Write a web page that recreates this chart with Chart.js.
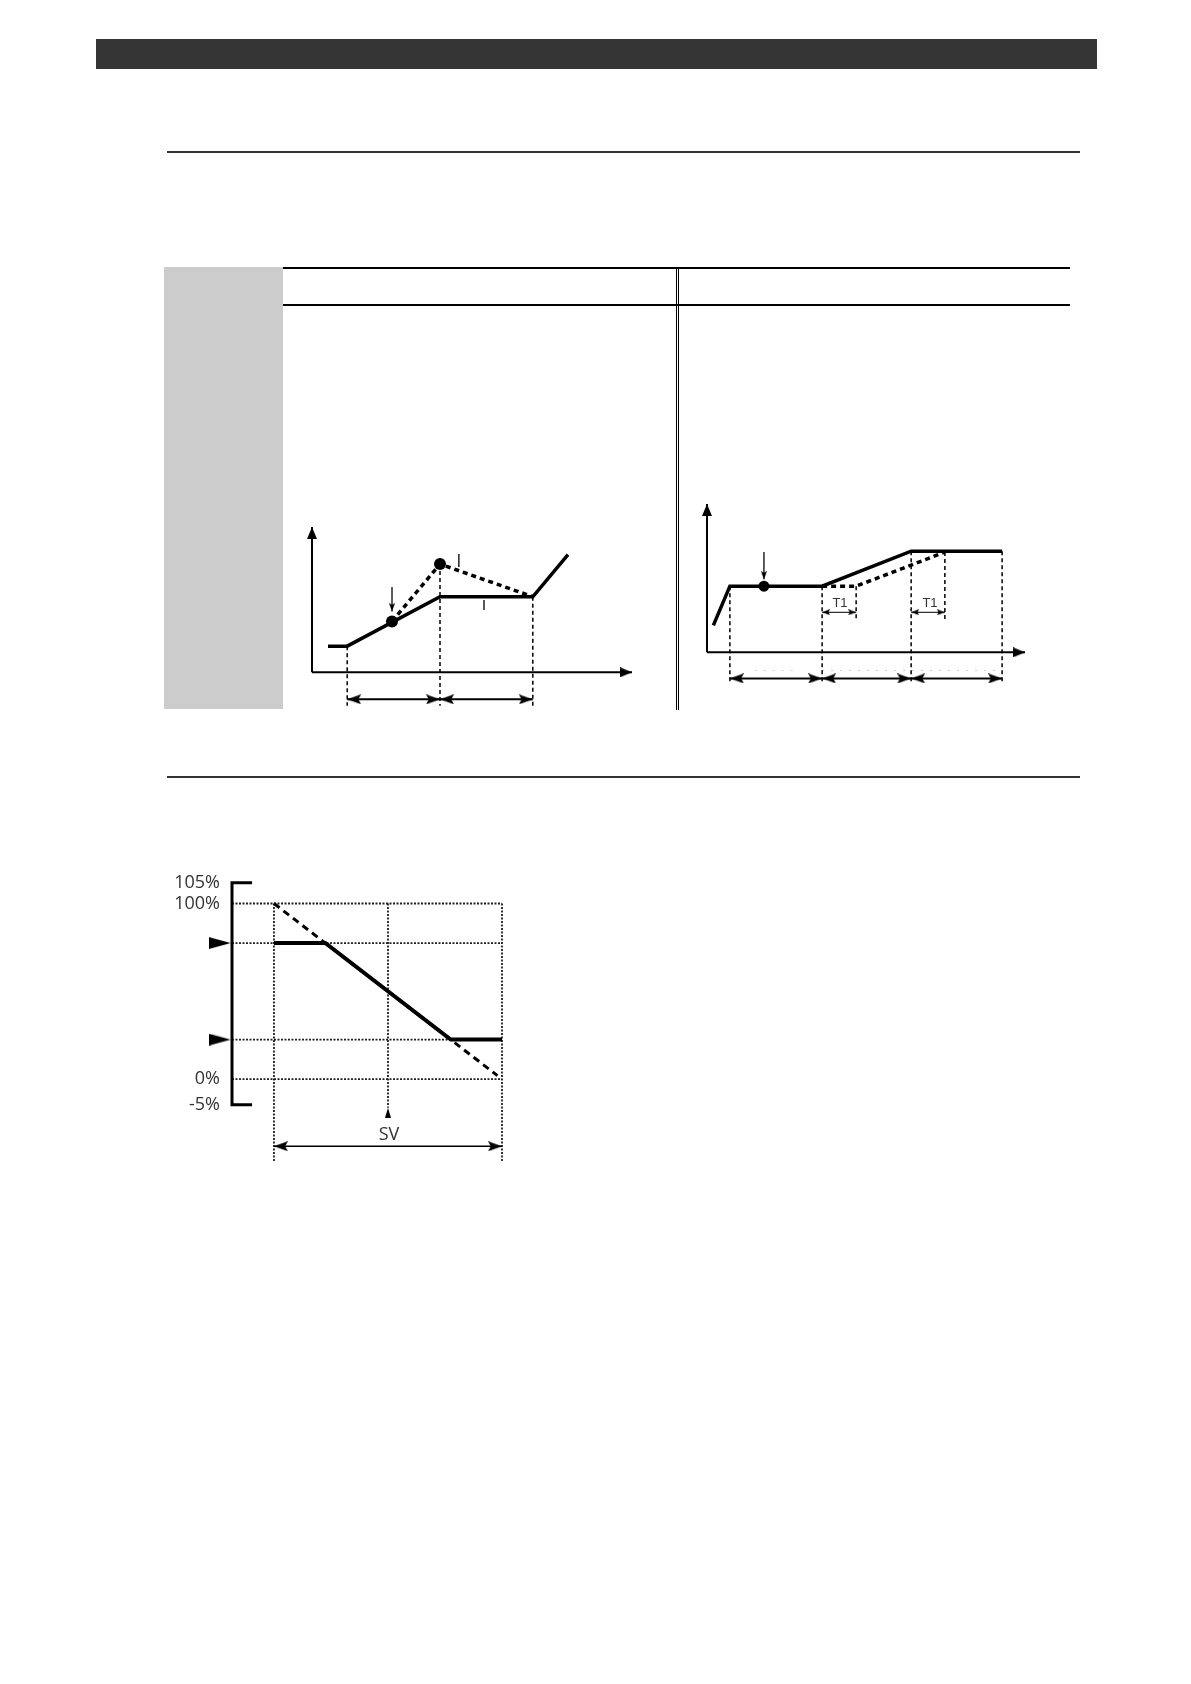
<!DOCTYPE html>
<html>
<head>
<meta charset="utf-8">
<script src="https://cdn.jsdelivr.net/npm/chart.js@4.4.1/dist/chart.umd.min.js"></script>
<style>
  html, body { margin: 0; padding: 0; background: #fff; }
  #page { position: relative; width: 1191px; height: 1684px; overflow: hidden; font-family: "Open Sans", "Noto Sans", sans-serif; }
  .blk { position: absolute; }
  .bar  { left: 96px; top: 39px; width: 1001px; height: 30px; background: #353535; }
  .rule { left: 167px; width: 913px; height: 2px; background: #333; }
  .grey { left: 164px; top: 267px; width: 119px; height: 442px; background: #cccccc; }
  .hline { left: 283px; width: 787px; height: 2px; background: #000; }
  .vdbl { left: 676px; top: 267px; width: 1px; height: 443px; border-left: 1px solid #000; border-right: 1px solid #000; }
  canvas { position: absolute; }
  .lbl { position: absolute; color: #333; transform: translate(-50%, -50%); white-space: nowrap; line-height: 1; }
</style>
</head>
<body>
<div id="page">
  <div class="blk bar"></div>
  <div class="blk rule" style="top:151px"></div>
  <div class="blk grey"></div>
  <div class="blk hline" style="top:267px"></div>
  <div class="blk hline" style="top:304px"></div>
  <div class="blk vdbl"></div>
  <div class="blk rule" style="top:776px"></div>

  <canvas id="leftChart"></canvas>
  <canvas id="rightChart"></canvas>
  <canvas id="rangeChart"></canvas>

  <div class="lbl" style="left:840px;top:602px;font:13px 'Liberation Sans', Arial, sans-serif;">T1</div>
  <div class="lbl" style="left:930px;top:602px;font:13px 'Liberation Sans', Arial, sans-serif;">T1</div>
  <div class="lbl" style="left:389px;top:1133px;font-size:18px;">SV</div>
</div>

<script>
/* ── data: left diagram (PV rising, SP overshoot) ─────────────── */
const pvX   = [5, 11, 40, 69, 80];
const pvY   = [18, 18, 52, 52, 81];
const spX   = [25, 40, 69];
const spY   = [35, 74.5, 52];
const dotX  = [25, 40];
const dotY  = [35, 74.5];
const dropX = [11, 40, 69];
const dropTop = [18, 74.5, 52];

/* ── data: right diagram (segments with T1 delay) ─────────────── */
const svX    = [2, 7.2, 36.2, 64.2, 92.8];
const svY    = [18.2, 44.6, 44.6, 68.2, 68.2];
const delayX = [36.2, 46.9, 74.8];
const delayY = [44.6, 44.6, 67.6];
const segX   = [7.2, 36.2, 64.2, 92.8];
const segTop = [44.6, 44.6, 68.2, 68.2];
const t1From = [36.2, 64.2];
const t1To   = [46.9, 74.8];
const t1Top  = [44.6, 67.6];

/* ── data: bottom chart (output % vs input) ───────────────────── */
const outX        = [0, 22.5, 77.5, 100];
const outY        = [77.5, 77.5, 22.5, 22.5];
const rawX        = [0, 98];
const rawY        = [100, 2];
const levelY      = [100, 77.5, 22.5, 0];
const guideX      = [0, 50, 100];
const guideBottom = [-16.2, -5.6, -16.2];
const yTickValues = [105, 100, 0, -5];
const markerY     = [77.5, 22.5];

Chart.defaults.font.family = "'Open Sans', 'Noto Sans', sans-serif";

// 0–100 % is drawn to scale, the 100–105 and −5–0 bands are stretched
const warp   = (v) => (v > 100 ? 100 + (v - 100) * 2.36 : v < 0 ? v * 2.92 : v);
const unwarp = (w) => (w > 100 ? 100 + (w - 100) / 2.36 : w < 0 ? w / 2.92 : w);

class WarpScale extends Chart.LinearScale {
  getPixelForValue(v) { return super.getPixelForValue(v == null ? v : warp(v)); }
  getValueForPixel(p) { return unwarp(super.getValueForPixel(p)); }
}
WarpScale.id = "warp";
WarpScale.defaults = Chart.LinearScale.defaults;
Chart.register(WarpScale);

// arrow head image, tip sits at the image centre so rotation keeps it in place
function arrowHead(len, half, notch) {
  const c = document.createElement("canvas");
  c.width = len * 2; c.height = half * 2;
  const g = c.getContext("2d");
  g.fillStyle = "#000";
  g.beginPath();
  g.moveTo(0, 0);
  g.lineTo(len, half);
  g.lineTo(0, half * 2);
  g.lineTo(len * (notch || 0), half);
  g.closePath();
  g.fill();
  return c;
}
const axisHead  = arrowHead(12, 5, 0);
const dimHead   = arrowHead(14, 5, 0.2);
const smallHead = arrowHead(8, 3, 0.2);
const markHead  = arrowHead(22, 6, 0);
const svHead    = arrowHead(10, 3, 0);

const line = (xs, ys, o) => Object.assign({
  data: xs.map((x, i) => ({ x, y: ys[i] })),
  borderColor: "#000",
  borderWidth: 2,
  pointRadius: 0,
  fill: false,
  tension: 0,
  clip: false,
}, o);

// rots: null = no head at that point, else rotation in degrees
const arrowLine = (xs, ys, head, rots, o) => line(xs, ys, Object.assign({
  pointStyle: head,
  pointRadius: rots.map((r) => (r === null ? 0 : 14)),
  pointRotation: rots.map((r) => r || 0),
}, o));

const dropLine = (x, top, bottom) =>
  line([x, x], [top, bottom], { borderWidth: 1.5, borderDash: [4, 3], order: 5 });

function place(id, area, pad) {
  const cv = document.getElementById(id);
  cv.width = area.r - area.l + pad.left + pad.right;
  cv.height = area.b - area.t + pad.top + pad.bottom;
  cv.style.left = (area.l - pad.left) + "px";
  cv.style.top = (area.t - pad.top) + "px";
  return cv;
}

const baseOpts = (pad) => ({
  responsive: false,
  animation: false,
  events: [],
  layout: { padding: pad },
  plugins: { legend: { display: false }, tooltip: { enabled: false } },
});

/* ── Left diagram ─────────────────────────────────────────────── */
(function () {
  const pad = { left: 16, right: 16, top: 16, bottom: 16 };
  const cv = place("leftChart", { l: 312, r: 632, t: 527, b: 713 }, pad);
  const ds = [
    line(pvX, pvY, { borderWidth: 3.5, order: 1 }),
    line(spX, spY, { borderWidth: 3.5, borderDash: [5, 4], order: 2 }),
    line(dotX, dotY, { showLine: false, pointRadius: 6, pointBackgroundColor: "#000", pointBorderWidth: 0, order: 0 }),
    arrowLine([0, 0], [0, 100], axisHead, [null, -90], { order: 3 }),
    arrowLine([0, 100], [0, 0], axisHead, [null, 0], { order: 3 }),
    arrowLine([25, 25], [58.6, 42], smallHead, [null, 90], { borderWidth: 1, borderColor: "#444", order: 3 }),
    line([45.9, 45.9], [81.4, 72.4], { borderWidth: 1.3, order: 3 }),
    line([53.75, 53.75], [49.7, 42.8], { borderWidth: 1.3, order: 3 }),
    arrowLine([dropX[0], dropX[1]], [-18.6, -18.6], dimHead, [180, 0], { borderWidth: 2, order: 4 }),
    arrowLine([dropX[1], dropX[2]], [-18.6, -18.6], dimHead, [180, 0], { borderWidth: 2, order: 4 }),
  ];
  dropX.forEach((x, i) => ds.push(dropLine(x, dropTop[i], -23)));
  new Chart(cv, {
    type: "line",
    data: { datasets: ds },
    options: Object.assign(baseOpts(pad), {
      scales: {
        x: { type: "linear", min: 0, max: 100, display: false },
        y: { type: "linear", min: -28, max: 100, display: false },
      },
    }),
  });
})();

/* ── Right diagram ────────────────────────────────────────────── */
(function () {
  const pad = { left: 16, right: 16, top: 16, bottom: 16 };
  const cv = place("rightChart", { l: 707, r: 1025, t: 504, b: 685 }, pad);
  const ds = [
    line(svX, svY, { borderWidth: 3.5, order: 1 }),
    line(delayX, delayY, { borderWidth: 3.5, borderDash: [5, 4], order: 2 }),
    line([17.9], [44.6], { showLine: false, pointRadius: 5.5, pointBackgroundColor: "#000", pointBorderWidth: 0, order: 0 }),
    arrowLine([0, 0], [0, 100], axisHead, [null, -90], { order: 3 }),
    arrowLine([0, 100], [0, 0], axisHead, [null, 0], { order: 3 }),
    arrowLine([17.9, 17.9], [67.6, 49.3], smallHead, [null, 90], { borderWidth: 1, borderColor: "#444", order: 3 }),
    line([36.2, 92.8], [-12.2, -12.2], { borderWidth: 1, borderColor: "#c8c8c8", borderDash: [2, 7], order: 6 }),
    line([15, 27], [-12.2, -12.2], { borderWidth: 1, borderColor: "#d0d0d0", borderDash: [2, 7], order: 6 }),
  ];
  segX.forEach((x, i) => ds.push(dropLine(x, segTop[i], -19.6)));
  for (let i = 0; i < segX.length - 1; i++) {
    ds.push(arrowLine([segX[i], segX[i + 1]], [-17.6, -17.6], dimHead, [180, 0], { borderWidth: 2, order: 4 }));
  }
  t1From.forEach((x, i) => {
    ds.push(dropLine(t1To[i], t1Top[i], 22.3));
    ds.push(arrowLine([x, t1To[i]], [27, 27], smallHead, [180, 0], { borderWidth: 1, order: 4 }));
  });
  new Chart(cv, {
    type: "line",
    data: { datasets: ds },
    options: Object.assign(baseOpts(pad), {
      scales: {
        x: { type: "linear", min: 0, max: 100, display: false },
        y: { type: "linear", min: -22, max: 100, display: false },
      },
    }),
  });
})();

/* ── Bottom chart: output limits ──────────────────────────────── */
(function () {
  const pad = { left: 0, right: 20, top: 22, bottom: 20 };
  const axisW = 92;
  const cv = document.getElementById("rangeChart");
  cv.width = 382; cv.height = 325;
  cv.style.left = "140px"; cv.style.top = "860px";

  const xMin = -18.4;
  const dotted = { borderWidth: 1.8, borderColor: "#1e1e1e", borderDash: [2, 1.5], order: 6 };
  const ds = [
    line(outX, outY, { borderWidth: 4, order: 1 }),
    line(rawX, rawY, { borderWidth: 3, borderDash: [7, 5], order: 2 }),
    line([xMin + 8.8, xMin, xMin, xMin + 8.8], [105, 105, -5, -5], { borderWidth: 3, borderCapStyle: "butt", order: 3 }),
    line(markerY.map(() => xMin - 0.6), markerY, { showLine: false, pointStyle: markHead, pointRadius: 16, order: 0 }),
    arrowLine([0, 100], [-13.1, -13.1], dimHead, [180, 0], { borderWidth: 1.5, order: 3 }),
    line([50], [-5.6], { showLine: false, pointStyle: svHead, pointRadius: 12, pointRotation: -90, order: 0 }),
  ];
  levelY.forEach((y) => ds.push(line([xMin, 100], [y, y], dotted)));
  guideX.forEach((x, i) => ds.push(line([x, x], [100, guideBottom[i]], dotted)));

  new Chart(cv, {
    type: "line",
    data: { datasets: ds },
    options: Object.assign(baseOpts(pad), {
      scales: {
        x: { type: "linear", min: xMin, max: 100, display: false },
        y: {
          type: "warp",
          bounds: "data",
          min: warp(-16.2),
          max: warp(105),
          afterFit: (s) => { s.width = axisW; },
          afterBuildTicks: (s) => { s.ticks = yTickValues.map((v) => ({ value: v })); },
          grid: { display: false, drawTicks: false },
          border: { display: false },
          ticks: {
            autoSkip: false,
            padding: 12,
            color: "#333",
            font: { size: 18 },
            callback: (v) => v + "%",
          },
        },
      },
    }),
  });
})();
</script>
</body>
</html>
